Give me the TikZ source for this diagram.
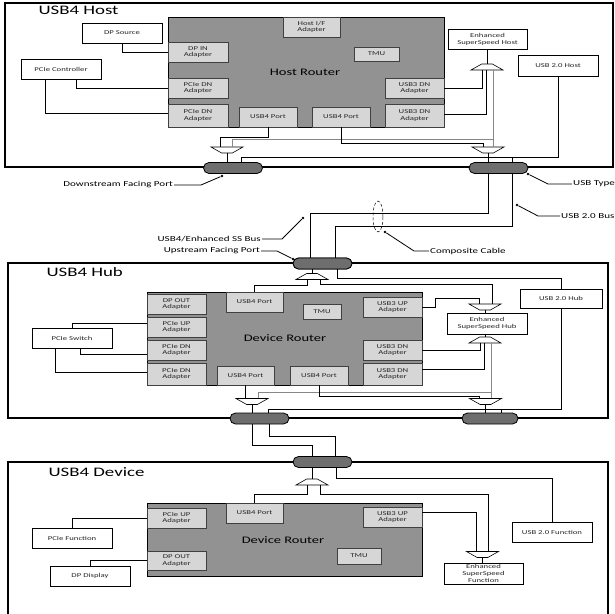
\documentclass[tikz,border=0pt]{standalone}
\usepackage{fontspec}
\setmainfont{Carlito}[FakeStretch=1.45]
\usetikzlibrary{shapes.geometric,shapes.misc}

\definecolor{routerfill}{RGB}{146,146,146}
\definecolor{adapterfill}{RGB}{214,214,214}
\definecolor{plugfill}{RGB}{110,110,110}
\definecolor{sslight}{RGB}{135,135,135}

\def \plugW {59}
\def \plugH {11}
\def \tipSize {2.8pt}

\tikzset{
  frame/.style={draw, line width=1.2pt},
  router/.style={draw, fill=routerfill, line width=0.7pt, inner sep=0pt},
  adapter/.style={draw=black!75, fill=adapterfill, line width=0.6pt, align=center, text=black!85,
    font=\fontsize{6}{6.8}\selectfont, inner sep=0pt},
  unit/.style={draw, fill=white, line width=0.7pt, align=center, text=black!85,
    font=\fontsize{6}{6.8}\selectfont, inner sep=0pt},
  sz/.style 2 args={minimum width=#1, minimum height=#2},
  plug/.style={rounded rectangle, draw, fill=plugfill, line width=0.8pt,
    minimum width=\plugW, minimum height=\plugH, inner sep=0pt},
  muxup/.style={trapezium, draw, fill=white, trapezium left angle=45, trapezium right angle=45,
    trapezium stretches=true, minimum width=32, minimum height=6, inner sep=0.5pt, line width=0.6pt},
  muxdown/.style={muxup, shape border rotate=180},
  wire/.style={line width=1pt},
  u2line/.style={line width=0.7pt},
  ssline/.style={line width=0.7pt, draw=sslight},
  title/.style={font=\fontsize{13}{13}\selectfont, anchor=west},
  rlabel/.style={font=\fontsize{10}{10}\selectfont},
  callout/.style={font=\fontsize{7.6}{7.6}\selectfont, inner sep=1pt},
  lead/.style={line width=0.8pt},
  tip/.style={circle, fill, inner sep=0pt, minimum size=\tipSize},
}

\begin{document}
\begin{tikzpicture}[x=1pt,y=1pt]
\useasboundingbox (0,0) rectangle (615,-613);

% ---------------- USB4 Host
\draw[frame] (5,-3) rectangle (613,-167);
\node[title] (hostT) at (35,-10) {USB4 Host};

\node[router, sz={276}{110}] (hostR) at (306,-72) {};
\node[rlabel] (hostRT) at (305,-72) {Host Router};
\node[adapter, sz={57}{20}] (hif) at (311.5,-27) {Host I/F\\Adapter};
\node[adapter, sz={45}{14}] (htmu) at (376.5,-54) {TMU};
\node[adapter, sz={60}{20}] (dpin) at (198,-52) {DP IN\\Adapter};
\node[adapter, sz={60}{20}] (hpdn1) at (198,-88) {PCIe DN\\Adapter};
\node[adapter, sz={60}{23}] (hpdn2) at (198,-115.5) {PCIe DN\\Adapter};
\node[adapter, sz={58}{20}] (hp4a) at (268,-117) {USB4 Port};
\node[adapter, sz={58}{20}] (hp4b) at (341,-117) {USB4 Port};
\node[adapter, sz={59}{20}] (hu3a) at (414.5,-88) {USB3 DN\\Adapter};
\node[adapter, sz={59}{23}] (hu3b) at (414.5,-115.5) {USB3 DN\\Adapter};

\node[unit, sz={80}{20}] (dpsrc) at (122,-33) {DP Source};
\node[unit, sz={80}{20}] (pcictl) at (61,-69) {PCIe Controller};
\node[unit, sz={79}{20}] (essh) at (487.5,-39) {Enhanced\\SuperSpeed Host};
\node[unit, sz={80}{21}] (u2h) at (558,-65.5) {USB 2.0 Host};

\node[muxup] (hA) at (487,-67) {};
\node[muxdown] (hB) at (227,-150) {};
\node[muxdown] (hC) at (488,-150) {};

\draw[wire] (dpsrc.south) |- (dpin.west);
\draw[wire] ([xshift=15]pcictl.south) |- (hpdn1.west);
\draw[wire] ([xshift=-16]pcictl.south) |- ([yshift=2]hpdn2.west);
\draw[wire] (essh.south) -- (essh.south |- hA.north);
\draw[wire] ([xshift=-5]hA.south) |- (hu3a.east);
\draw[wire] ([xshift=-1]hA.south) |- ([yshift=1.5]hu3b.east);
\draw[ssline] ([xshift=6]hA.south) -- ([xshift=5]hC.north);
\coordinate (hSS) at (493,-139);
\draw[ssline] (hSS) -| ([xshift=5]hB.north);
\draw[wire] (hp4a.south) -- ++(0,-10) -| ([xshift=-7]hB.north);
\draw[wire] (hp4b.south) -- ++(0,-16) -| ([xshift=-5]hC.north);

\node[plug] (hP1) at (233,-168) {};
\node[plug] (hP2) at (498.5,-168) {};
\draw[wire] (hB.south) -- (hB.south |- hP1.north);
\draw[wire] (hC.south) -- (hC.south |- hP2.north);
\coordinate (hU2) at (512,-157);
\coordinate (hP1b) at ([xshift=8]hP1.north);
\draw[u2line] (u2h.south) |- (hP1b |- hU2) -- (hP1b);
\draw[u2line] (hU2) -- (hU2 |- hP2.north);

% ---------------- cable
\node[plug] (uP) at (322.5,-263.5) {};
\draw[wire] ([xshift=-10.5]hP2.south) -- ++(0,-39.5) -| ([xshift=-12.5]uP.north);
\draw[wire] ([xshift=13.5]hP2.south) -- ++(0,-52.5) -| ([xshift=12.5]uP.north);
\node[ellipse, draw, densely dashed, line width=0.5pt, minimum width=10, minimum height=31, inner sep=0pt] (cbl) at (378,-216.5) {};

\node[callout, anchor=east] (dfpT) at (174,-185) {Downstream Facing Port};
\node[tip] (dfpD) at (222,-176) {};
\draw[lead] (dfpT.east) -- ++(27,0) -- (dfpD);
\node[callout, anchor=west] (typT) at (572,-184) {USB Type};
\node[tip] (typD) at (528,-174) {};
\draw[lead] (typT.west) -- ++(-24,0) -- (typD);
\node[callout, anchor=west] (u2bT) at (560,-216) {USB 2.0 Bus};
\node[tip] (u2bD) at (517,-205) {};
\draw[lead] (u2bT.west) -- ++(-22,0) -- (u2bD);
\node[callout, anchor=east] (ssbT) at (262,-239) {USB4/Enhanced SS Bus};
\node[tip] (ssbD) at (303,-218) {};
\draw[lead] (ssbT.east) -- ++(20,0) -- (ssbD);
\node[callout, anchor=west] (cblT) at (429,-251) {Composite Cable};
\node[tip] (cblD) at (385,-232) {};
\draw[lead] (cblT.west) -- ++(-15,0) -- (cblD);
\node[callout, anchor=east] (ufpT) at (261,-251) {Upstream Facing Port};
\node[tip] (ufpD) at (293,-259) {};
\draw[lead] (ufpT.east) -- ++(16,0) -- (ufpD);

% ---------------- USB4 Hub
\draw[frame] (8,-263) rectangle (608,-418);
\node[plug] (uP) at (322.5,-263.5) {};
\node[title] (hubT) at (43,-272) {USB4 Hub};

\node[router, sz={275}{93}] (hubR) at (284.5,-338.5) {};
\node[rlabel] (hubRT) at (285,-338) {Device Router};
\node[adapter, sz={59}{20}] (ddpo) at (176.5,-304) {DP OUT\\Adapter};
\node[adapter, sz={59}{20}] (dpup) at (176.5,-327) {PCIe UP\\Adapter};
\node[adapter, sz={59}{20}] (dpdn1) at (176.5,-350) {PCIe DN\\Adapter};
\node[adapter, sz={59}{22}] (dpdn2) at (176.5,-374) {PCIe DN\\Adapter};
\node[adapter, sz={57}{20}] (d4top) at (254.5,-302) {USB4 Port};
\node[adapter, sz={38}{15}] (dtmu) at (322,-312) {TMU};
\node[adapter, sz={59}{20}] (du3up) at (392.5,-307) {USB3 UP\\Adapter};
\node[adapter, sz={59}{20}] (du3dn1) at (392.5,-350) {USB3 DN\\Adapter};
\node[adapter, sz={59}{22}] (du3dn2) at (392.5,-374) {USB3 DN\\Adapter};
\node[adapter, sz={57}{19}] (d4a) at (245.5,-375.5) {USB4 Port};
\node[adapter, sz={58}{19}] (d4b) at (319,-375.5) {USB4 Port};

\node[unit, sz={80}{20}] (pciesw) at (72,-338) {PCIe Switch};
\node[unit, sz={80}{21}] (essHub) at (487,-323.5) {Enhanced\\SuperSpeed Hub};
\node[unit, sz={82}{19}] (u2hub) at (561,-298.5) {USB 2.0 Hub};

\node[muxup] (dA) at (312,-276.5) {};
\node[muxdown] (dB) at (485,-307) {};
\node[muxup] (dC) at (485,-340) {};
\node[muxdown] (dD) at (252,-401.5) {};
\node[muxdown] (dE) at (485.5,-401.5) {};

\draw[wire] ([xshift=-10.5]uP.south) -- (dA.north);
\draw[wire] ([xshift=-5]dA.south) -- ++(0,-6) -| (d4top.north);
\draw[wire] ([xshift=8]dA.south) -- ++(0,-5) -| ([xshift=7]dB.north);
\draw[u2line] ([xshift=14.5]uP.south) -- ++(0,-9) -| (u2hub.north);
\draw[wire] (du3up.east) -- ++(13,0) -- ++(0,9) -| ([xshift=-6]dB.north);
\draw[wire] (dB.south) -- (dB.south |- essHub.north);
\draw[wire] (essHub.south -| dC.north) -- (dC.north);
\draw[wire] ([xshift=-5]dC.south) |- (du3dn1.east);
\draw[wire] ([xshift=-1]dC.south) |- ([yshift=5]du3dn2.east);
\draw[ssline] ([xshift=6]dC.south) -- ([xshift=5.5]dE.north);
\coordinate (dSS) at (491,-392);
\draw[ssline] (dSS) -| ([xshift=6.5]dD.north);
\draw[wire] (d4a.south) -- (d4a.south |- dD.north);
\draw[wire] (d4b.south) -- ++(0,-11) -| ([xshift=-6.5]dE.north);

\draw[wire] (pciesw.north) |- ([yshift=4]dpup.west);
\draw[wire] ([xshift=8]pciesw.south) |- ([yshift=-4]dpdn1.west);
\draw[wire] ([xshift=-17]pciesw.south) |- ([yshift=2]dpdn2.west);

\node[plug] (dP1) at (259.5,-418.5) {};
\node[plug, minimum width=56] (dP2) at (490,-418.5) {};
\draw[wire] (dD.south) -- (dD.south |- dP1.north);
\draw[wire] (dE.south) -- (dE.south |- dP2.north);
\coordinate (dU2) at (501,-409);
\coordinate (dP1b) at ([xshift=9]dP1.north);
\draw[u2line] (u2hub.south) |- (dP1b |- dU2) -- (dP1b);
\draw[u2line] (dU2) -- (dU2 |- dP2.north);

% ---------------- USB4 Device
\draw[frame] (8,-615) |- (608,-462) -- (608,-615);
\node[plug] (dvP) at (322.5,-462) {};
\node[title] (devT) at (45,-472) {USB4 Device};
\draw[wire] ([xshift=-7.5]dP1.south) -- ++(0,-21) -| ([xshift=-10.5]dvP.north);
\draw[wire] ([xshift=9.5]dP1.south) -- ++(0,-12) -| ([xshift=12.5]dvP.north);

\node[router, sz={275}{73}] (devR) at (284.5,-539.5) {};
\node[rlabel] (devRT) at (283,-540) {Device Router};
\node[adapter, sz={57}{20}] (vp4) at (254.5,-513) {USB4 Port};
\node[adapter, sz={59}{20}] (vpup) at (176.5,-518) {PCIe UP\\Adapter};
\node[adapter, sz={59}{19}] (vdpo) at (176.5,-560.5) {DP OUT\\Adapter};
\node[adapter, sz={59}{20}] (vu3) at (392.5,-517) {USB3 UP\\Adapter};
\node[adapter, sz={44}{16}] (vtmu) at (359,-556) {TMU};

\node[unit, sz={80}{20}] (pcifn) at (72,-538) {PCIe Function};
\node[unit, sz={80}{20}] (dpdisp) at (90,-576) {DP Display};
\node[unit, sz={79}{21}] (essF) at (483.5,-573.5) {Enhanced\\SuperSpeed\\Function};
\node[unit, sz={80}{20}] (u2f) at (552,-532) {USB 2.0 Function};

\node[muxup] (vA) at (312,-482) {};
\node[muxdown] (vB) at (482.5,-554.5) {};

\draw[wire] ([xshift=-10.5]dvP.south) -- (vA.north);
\draw[wire] ([xshift=-5]vA.south) -- ++(0,-9) -| (vp4.north);
\draw[wire] ([xshift=8]vA.south) -- ++(0,-9) -| ([xshift=6]vB.north);
\draw[u2line] ([xshift=13.5]dvP.south) -- ++(0,-10) -| (u2f.north);
\draw[wire] ([yshift=5]vu3.east) -| ([xshift=-6.5]vB.north);
\draw[wire] (vB.south) -- (vB.south |- essF.north);
\draw[wire] (pcifn.north) |- (vpup.west);
\draw[wire] (dpdisp.north) |- (vdpo.west);
\end{tikzpicture}
\end{document}
